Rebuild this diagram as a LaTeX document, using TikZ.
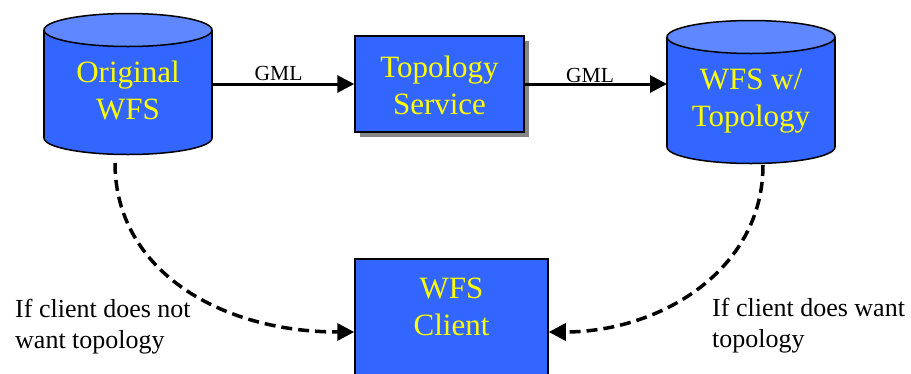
\documentclass[tikz,border=0pt]{standalone}
\usepackage{fontspec}
\setmainfont{Liberation Serif}
\usetikzlibrary{arrows.meta,shadows}
\definecolor{bodyblue}{HTML}{3366FF}
\definecolor{topblue}{HTML}{5F87FF}
\definecolor{txtyellow}{HTML}{FFFF00}
\begin{document}
\begin{tikzpicture}[x=1pt,y=-1pt,
  boxtext/.style={text=txtyellow,font=\fontsize{31}{37}\selectfont,align=center,inner sep=0},
  note/.style={font=\fontsize{26}{31}\selectfont,align=left,anchor=base west,inner sep=0},
  gml/.style={font=\fontsize{21.5}{24}\selectfont,anchor=base,inner sep=0},
  outline/.style={draw=black,line width=1.5pt},
  area/.style={inner sep=0,outer sep=0,minimum width=#1},
  procbox/.style={fill=bodyblue,outline,inner sep=0},
  flow/.style={line width=3pt,-{Triangle[length=17pt,width=17pt]}},
  optflow/.style={line width=3.5pt,dash pattern=on 11pt off 6pt,-{Triangle[length=17pt,width=17pt]}}]
\useasboundingbox (0,0) rectangle (911,373);

% data store: Original WFS
\path[fill=bodyblue,outline] (128,138) ellipse[x radius=84,y radius=16.5];
\fill[bodyblue] (44,30) rectangle (212,138);
\draw[outline] (44,30) -- (44,138) (212,30) -- (212,138);
\path[fill=topblue,outline] (128,30) ellipse[x radius=84,y radius=16.5];
\node[area=168,minimum height=140] (orig) at (128,84) {};
\node[boxtext] (origt) at (128,90) {Original\\WFS};

% data store: WFS with topology
\path[fill=bodyblue,outline] (751,147) ellipse[x radius=84,y radius=16.5];
\fill[bodyblue] (667,37) rectangle (835,147);
\draw[outline] (667,37) -- (667,147) (835,37) -- (835,147);
\path[fill=topblue,outline] (751,37) ellipse[x radius=84,y radius=16.5];
\node[area=168,minimum height=142] (wfst) at (751,92) {};
\node[boxtext] (wfstt) at (751,101) {WFS w/\\Topology};

% processing service
\node[procbox,minimum width=169,minimum height=96,
  drop shadow={shadow xshift=5pt,shadow yshift=-5pt,fill=gray!95,opacity=1}] (svc) at (439.5,84) {};
\node[boxtext] (svct) at (439.5,85) {Topology\\Service};

% client
\node[procbox,minimum width=193,minimum height=146] (client) at (451.5,332) {};
\node[boxtext] (clientt) at (451.5,306.5) {WFS\\Client};

% GML transfers
\draw[flow] (orig.east) -- (svc.west);
\draw[flow] (svc.east) -- (svc.east -| wfst.west);
\node[gml] (g1) at (278.5,80) {GML};
\node[gml] (g2) at (590,82) {GML};

% optional access paths
\coordinate (ls) at (115,163);
\coordinate (rs) at (763,165);
\draw[optflow] (ls) .. controls (115,270) and (220,332) .. (client.west);
\draw[optflow] (rs) .. controls (763,270) and (660,332) .. (client.east);
\node[note] (nl) at (15,348) {If client does not\\want topology};
\node[note] (nr) at (712,347) {If client does want\\topology};
\end{tikzpicture}
\end{document}
